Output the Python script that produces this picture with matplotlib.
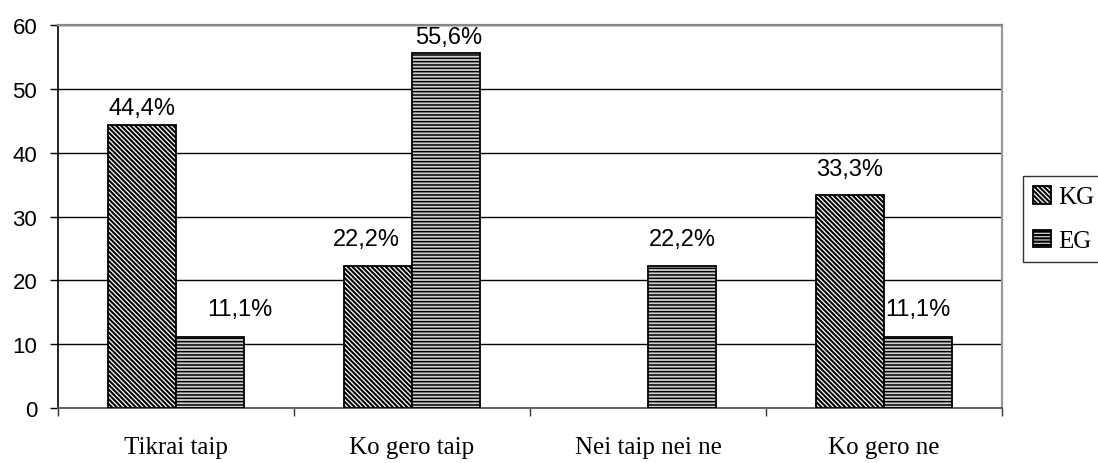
import matplotlib
matplotlib.use("Agg")
import matplotlib.pyplot as plt
import numpy as np

categories = ["Tikrai taip", "Ko gero taip", "Nei taip nei ne", "Ko gero ne"]
series_names = ["KG", "EG"]
kg_values = [44.4, 22.2, 0.0, 33.3]
eg_values = [11.1, 55.6, 22.2, 11.1]
kg_labels = ["44,4%", "22,2%", None, "33,3%"]
eg_labels = ["11,1%", "55,6%", "22,2%", "11,1%"]

# label nudges in pixels (dx, dy above bar top)
kg_label_offsets = [(0, 17), (-12, 27), (0, 0), (0, 26)]
eg_label_offsets = [(30, 28), (3, 16), (0, 27), (0, 28)]

plt.rcParams["hatch.linewidth"] = 1.5
plt.rcParams["hatch.color"] = "black"

SANS = ["Liberation Sans", "DejaVu Sans"]
SERIF = ["Liberation Serif", "DejaVu Serif"]

fig = plt.figure(figsize=(10.98, 4.64), dpi=100)
ax = fig.add_axes([58 / 1098, 1 - 409 / 464, (1002 - 58) / 1098, (409 - 26) / 464])

x = np.arange(len(categories))
w = 0.288
bars_kg = ax.bar(x - w / 2, kg_values, width=w, facecolor="white", edgecolor="black",
                 hatch="\\" * 7, linewidth=1.3, zorder=3)
bars_eg = ax.bar(x + w / 2, eg_values, width=w, facecolor="#d0d0d0", edgecolor="black",
                 hatch="-----", linewidth=1.3, zorder=3)
for b in bars_eg:
    if hasattr(b, "set_hatch_linewidth"):
        b.set_hatch_linewidth(1.1)
for b, v in zip(bars_kg, kg_values):
    if v == 0:
        b.set_visible(False)

ax.set_xlim(-0.5, len(categories) - 0.5)
ax.set_ylim(0, 60)
ax.set_yticks(range(0, 61, 10))
ax.yaxis.grid(True, color="black", linewidth=1.0, zorder=0)
ax.set_axisbelow(True)

ax.spines["left"].set_color("black")
ax.spines["left"].set_linewidth(1.2)
ax.spines["bottom"].set_color("#555555")
ax.spines["bottom"].set_linewidth(1.3)
ax.spines["top"].set_color("#888888")
ax.spines["top"].set_linewidth(1.6)
ax.spines["right"].set_color("#999999")
ax.spines["right"].set_linewidth(1.6)

ax.tick_params(axis="y", length=6, width=1, pad=9, labelsize=16, color="black")
for t in ax.get_yticklabels():
    t.set_family(SANS)

ax.set_xticks(np.arange(-0.5, len(categories), 1.0))
ax.set_xticklabels([])
ax.tick_params(axis="x", which="major", length=6, width=1, color="#333333")
ax.set_xticks(x, minor=True)
ax.set_xticklabels(categories, minor=True, family=SERIF, fontsize=18)
ax.tick_params(axis="x", which="minor", length=0, pad=20)

def add_labels(bars, labels, offsets):
    for b, lab, (dx, dy) in zip(bars, labels, offsets):
        if lab is None:
            continue
        ax.annotate(lab, (b.get_x() + b.get_width() / 2, b.get_height()),
                    xytext=(dx * 0.72, dy * 0.72), textcoords="offset points",
                    ha="center", va="center", fontsize=17,
                    family=SANS, annotation_clip=False)

add_labels(bars_kg, kg_labels, kg_label_offsets)
add_labels(bars_eg, eg_labels, eg_label_offsets)

leg = fig.legend([bars_kg[0], bars_eg[0]], series_names, loc="upper left",
                 bbox_to_anchor=(1023 / 1098, 1 - 177 / 464), frameon=True, fancybox=False,
                 edgecolor="black", prop={"family": SERIF, "size": 18},
                 handlelength=0.7, handleheight=0.7, handletextpad=0.3, borderpad=0.4,
                 labelspacing=0.85, borderaxespad=0)
leg.get_frame().set_linewidth(1.0)

fig.savefig("out.png", dpi=100)
